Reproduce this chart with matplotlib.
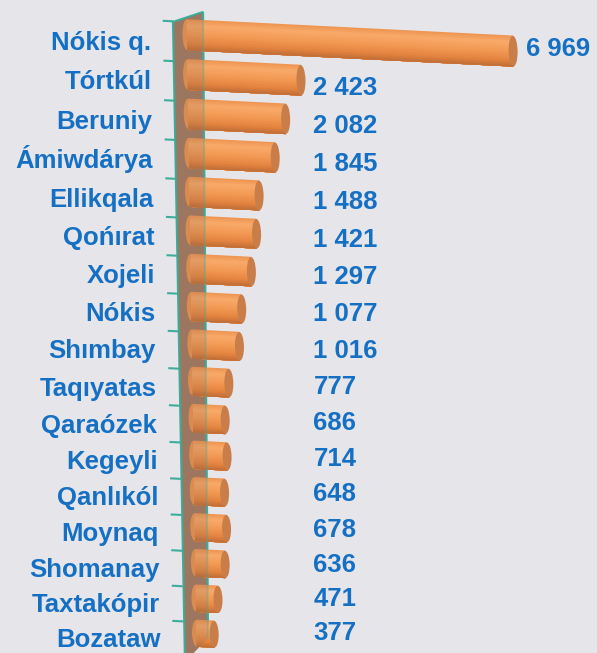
import numpy as np
import matplotlib
matplotlib.use('Agg')
import matplotlib.pyplot as plt
from matplotlib.patches import Ellipse, Polygon
from matplotlib.transforms import Affine2D
from matplotlib.colors import LinearSegmentedColormap

districts = ['Nókis q.', 'Tórtkúl', 'Beruniy', 'Ámiwdárya', 'Ellikqala', 'Qońırat',
             'Xojeli', 'Nókis', 'Shımbay', 'Taqıyatas', 'Qaraózek', 'Kegeyli',
             'Qanlıkól', 'Moynaq', 'Shomanay', 'Taxtakópir', 'Bozataw']
values = [6969, 2423, 2082, 1845, 1488, 1421, 1297, 1077, 1016,
          777, 686, 714, 648, 678, 636, 471, 377]

W, H = 597, 653
BG = '#E6E6EA'
BLUE = '#1570C4'
TEAL = '#3DAE9C'
WALL = '#A07A62'
CAP = '#C97D49'

plt.rcParams['font.family'] = ['Liberation Sans', 'DejaVu Sans']

fig = plt.figure(figsize=(W / 100, H / 100), dpi=100)
fig.patch.set_facecolor(BG)
ax = fig.add_axes([0, 0, 1, 1])
ax.set_axis_off()

# rows get a little tighter towards the bottom (perspective)
TOP, STEP, SQ = 22.0, 40.0, 0.156


def fwd(r):
    return STEP * r - SQ * np.asarray(r) ** 2


def inv(t):
    return (STEP - np.sqrt(np.clip(STEP ** 2 - 4 * SQ * np.asarray(t), 0, None))) / (2 * SQ)


ax.set_yscale('function', functions=(fwd, inv))

X0, K = 187, 0.0468      # pixel of zero, pixels per unit
S, C = 0.05, 0.016       # bars drop to the right, rows drift right going down
YREF = H - 38
shear = Affine2D(np.array([[1, -C, C * YREF],
                           [-S, 1, S * X0],
                           [0, 0, 1]]))
bar_trans = ax.transData + shear

rows = np.arange(len(values))
ybar = rows + 0.32
BAR_H = 0.78
CAP_W = 9 / K

# back wall
wall_pts = [(173, 22), (203, 12), (208, 638), (185, 662)]
wall_xy = [(x / W, 1 - y / H) for x, y in wall_pts]
ax.add_patch(Polygon(wall_xy, closed=True, facecolor=WALL, edgecolor='none',
                     transform=fig.transFigure, zorder=1))
for (xa, ya), (xb, yb) in [((173, 22), (185, 662)), ((173, 22), (203, 12)),
                           ((203, 12), (208, 638))]:
    ax.plot([xa / W, xb / W], [1 - ya / H, 1 - yb / H], color=TEAL, lw=1.6,
            transform=fig.transFigure, zorder=1.5, solid_capstyle='butt')

# row ticks on the wall edge
tick_rows = np.arange(0, 17)
ax.hlines(tick_rows, (163 - X0) / K, (174 - X0) / K, colors=TEAL, lw=1.5,
          transform=bar_trans, zorder=1.5)

# cylinders: stacked shading bands (each runs to the bottom edge so no seams),
# rounded back end, darker front cap
cyl = LinearSegmentedColormap.from_list(
    'cyl', [(0, '#EE9350'), (0.2, '#F8AA6A'), (0.5, '#F39A54'),
            (0.8, '#E3833F'), (1, '#BF6D37')])
for y, v in zip(ybar, values):
    ax.add_patch(Ellipse((0, y), CAP_W, BAR_H * 0.98, facecolor='#EE9450',
                         edgecolor='none', transform=bar_trans, zorder=2.9))
N = 20
bottom = ybar + BAR_H / 2
for j in range(N):
    top = ybar - BAR_H / 2 + j * BAR_H / N
    bars = ax.barh((top + bottom) / 2, values, height=bottom - top,
                   color=cyl((j + 0.5) / N), linewidth=0, zorder=3 + j * 0.01)
    for p in bars:
        p.set_transform(bar_trans)
for y, v in zip(ybar, values):
    ax.add_patch(Ellipse((v, y), CAP_W, BAR_H * 0.98, facecolor=CAP,
                         edgecolor='none', transform=bar_trans, zorder=4))

# wall glass over the back of the bars
ax.add_patch(Polygon(wall_xy, closed=True, facecolor='#8C6A55', edgecolor='none',
                     alpha=0.2, transform=fig.transFigure, zorder=5))
ax.plot([203 / W, 208 / W], [1 - 12 / H, 1 - 638 / H], color=TEAL, lw=1.4,
        alpha=0.35, transform=fig.transFigure, zorder=5)

# labels
label_trans = bar_trans + Affine2D().translate(0, -9.5)
for i, name in enumerate(districts):
    ax.text((151 - X0) / K, i + 0.5, name, ha='right', va='baseline',
            fontsize=18.5, fontweight='bold', color=BLUE, transform=label_trans)

value_trans = ax.transData + Affine2D().translate(0, -9)
for i, v in enumerate(values):
    ax.text(max(v, 2423) + 13 / K, i + 0.62 - 0.022 * i, f'{v:,}'.replace(',', ' '),
            ha='left', va='baseline', fontsize=18.5, fontweight='bold',
            color=BLUE, transform=value_trans)

ax.set_xlim(-X0 / K, (W - X0) / K)
ax.set_ylim(inv(H - TOP), inv(-TOP))

fig.savefig('out.png', dpi=100, facecolor=BG)
